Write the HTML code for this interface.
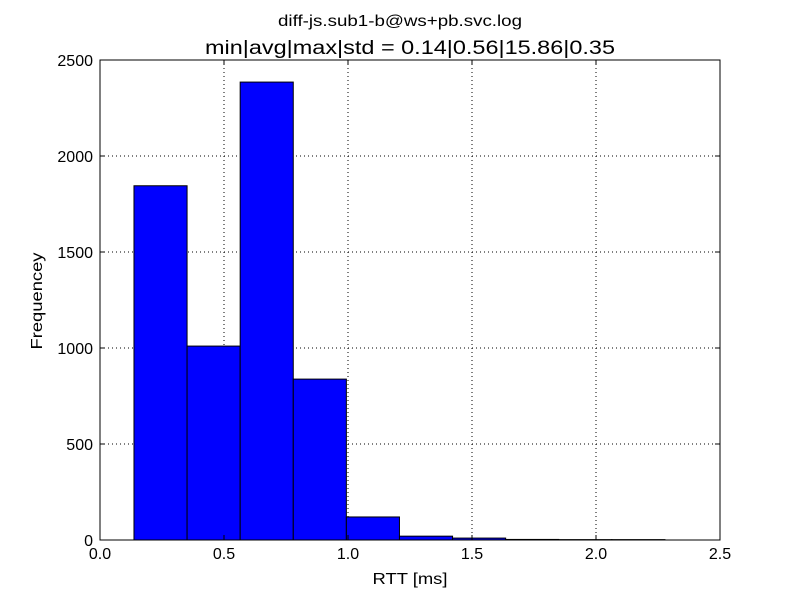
<!DOCTYPE html>
<html><head><meta charset="utf-8"><style>
body{margin:0;background:#fff;}
svg{display:block;font-family:"Liberation Sans","DejaVu Sans",sans-serif;}
</style></head><body>
<svg id="chart" width="800" height="600">
<rect width="800" height="600" fill="#fff"/>
<text x="400" y="26" text-anchor="middle" font-size="16" textLength="244" lengthAdjust="spacingAndGlyphs">diff-js.sub1-b@ws+pb.svc.log</text>
<text x="410" y="54" text-anchor="middle" font-size="19" textLength="410" lengthAdjust="spacingAndGlyphs">min|avg|max|std = 0.14|0.56|15.86|0.35</text>
<g id="grid"></g>
<g id="bars"></g>
<rect x="100" y="60" width="620" height="480" fill="none" stroke="#000" stroke-width="1"/>
<g id="ticks"></g>
<text x="410" y="584" text-anchor="middle" font-size="16" textLength="75" lengthAdjust="spacingAndGlyphs">RTT [ms]</text>
<text transform="translate(42,301) rotate(-90)" text-anchor="middle" font-size="16" textLength="97" lengthAdjust="spacingAndGlyphs">Frequencey</text>
</svg>
<script>
const binStart = 0.137;
const binWidth = 0.2141;
const counts = [1845, 1010, 2385, 838, 120, 20, 10, 3, 2, 2];
const xTicks = [0, 0.5, 1.0, 1.5, 2.0, 2.5];
const xTickLabels = ["0.0", "0.5", "1.0", "1.5", "2.0", "2.5"];
const yTicks = [0, 500, 1000, 1500, 2000, 2500];
const yTickLabels = ["0", "500", "1000", "1500", "2000", "2500"];
const NS = "http://www.w3.org/2000/svg";
const X = v => 100 + v * 620 / 2.5;
const Y = v => 540 - v * 480 / 2500;
function mk(tag, attrs, parent){const e=document.createElementNS(NS,tag);for(const k in attrs)e.setAttribute(k,attrs[k]);parent.appendChild(e);return e;}
const grid=document.getElementById('grid'), bars=document.getElementById('bars'), ticks=document.getElementById('ticks');
xTicks.forEach((t,i)=>{
  const x=X(t);
  if(i>0&&i<xTicks.length-1){const g=mk('line',{x1:x,x2:x,y1:60,y2:540,stroke:'#000','stroke-dasharray':'1,3','stroke-width':1},grid);
  
  }
  mk('line',{x1:x,x2:x,y1:540,y2:535,stroke:'#000'},ticks);
  mk('line',{x1:x,x2:x,y1:60,y2:65,stroke:'#000'},ticks);
  const l=mk('text',{x:x,y:559,'text-anchor':'middle','font-size':16},ticks);
  l.textContent=xTickLabels[i];
  
  
});
yTicks.forEach((t,i)=>{
  const y=Y(t);
  if(i>0&&i<yTicks.length-1){const g=mk('line',{x1:100,x2:720,y1:y,y2:y,stroke:'#000','stroke-dasharray':'1,3','stroke-width':1},grid);
  
  }
  mk('line',{x1:100,x2:105,y1:y,y2:y,stroke:'#000'},ticks);
  mk('line',{x1:715,x2:720,y1:y,y2:y,stroke:'#000'},ticks);
  const l=mk('text',{x:93,y:y+6,'text-anchor':'end','font-size':16},ticks);
  l.textContent=yTickLabels[i];
  
  
});
counts.forEach((c,i)=>{
  const x0=X(binStart+i*binWidth), x1=X(binStart+(i+1)*binWidth);
  const b=mk('rect',{x:x0,y:Y(c),width:x1-x0,height:540-Y(c),fill:'#0000ff',stroke:'#000','stroke-width':1},bars);
  
  
});
</script>
</body></html>
